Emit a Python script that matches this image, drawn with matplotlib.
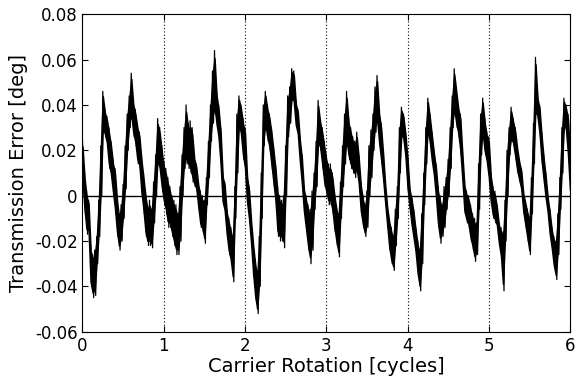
import numpy as np
import matplotlib
matplotlib.use('Agg')
import matplotlib.pyplot as plt

# carrier rotation grid [cycles], one upper/lower reading every 0.025 cycle
step = 0.025

# upper edge of the error band, in 1e-3 deg
upper = [
    24, 10, 2, -2, -22, -26, -24, -18, -2, 22, 46, 38, 35, 30, 24, 16, 12, 0, -8, -4,
    5, 22, 36, 44, 54, 42, 38, 32, 28, 18, 10, 2, -4, -2, -6, 6, 18, 34, 30, 22,
    15, 12, 8, 4, 0, -2, -4, -8, 4, 18, 30, 40, 32, 33, 30, 18, 14, 6, 2, 0,
    -2, 8, 24, 40, 55, 64, 46, 40, 30, 10, 6, -6, -10, -14, -18, 4, 36, 44, 40, 34,
    30, 10, 4, -10, -20, -28, -34, -18, 10, 40, 46, 40, 36, 30, 22, 14, 4, 0, -2, 0,
    22, 44, 48, 56, 55, 42, 38, 26, 18, 4, 0, -4, -6, 2, 10, 24, 42, 34, 30, 24,
    18, 14, 14, 10, 2, -4, -8, 6, 22, 36, 46, 34, 30, 26, 24, 28, 18, 6, 0, -4,
    2, 22, 29, 36, 48, 53, 38, 32, 20, 6, -4, -10, -14, -18, -6, 4, 30, 39, 36, 28,
    18, 4, 0, -6, -14, -20, -24, -8, 10, 30, 43, 36, 28, 20, 14, 4, 0, -4, 4, 8,
    16, 30, 44, 56, 48, 40, 36, 20, 6, 2, 0, -4, -8, -10, -12, 14, 36, 43, 34, 28,
    26, 10, 4, 2, -4, -12, -14, -16, -2, 20, 30, 39, 34, 30, 22, 16, 12, 2, -2, -6,
    -10, 8, 32, 61, 44, 40, 28, 18, 10, 0, -6, -14, -18, -20, -8, 8, 30, 43, 40, 36,
    20,
]

# lower edge of the error band, in 1e-3 deg
lower = [
    5, -8, -17, -17, -40, -45, -44, -30, -18, 0, 28, 26, 22, 12, 8, 0, -8, -18, -24, -20,
    -10, 3, 20, 30, 34, 26, 22, 14, 12, 0, -8, -18, -22, -22, -23, -12, 0, 14, 10, 2,
    -4, -8, -14, -14, -18, -22, -26, -26, -20, 0, 12, 14, 12, 10, 6, 4, 2, -6, -14, -16,
    -21, -4, 8, 24, 32, 36, 30, 24, 12, -4, -8, -18, -26, -30, -38, -10, 10, 30, 26, 16,
    10, -4, -12, -22, -36, -46, -52, -40, -10, 22, 30, 24, 20, 12, 4, -4, -18, -20, -20, -23,
    0, 26, 32, 42, 40, 30, 26, 14, 4, -8, -16, -24, -30, -24, -6, 4, 22, 20, 12, 4,
    0, -4, -4, -8, -16, -22, -27, -10, 4, 14, 22, 16, 12, 10, 8, 10, 4, -8, -14, -18,
    -14, 0, 8, 20, 28, 32, 22, 14, 6, -4, -14, -24, -30, -33, -22, -10, 10, 26, 24, 16,
    2, -6, -14, -20, -26, -36, -42, -30, -4, 14, 28, 22, 14, 8, -2, -14, -21, -18, -14, -6,
    0, 12, 30, 36, 30, 26, 18, 6, -8, -12, -14, -20, -24, -29, -26, -6, 18, 26, 18, 14,
    6, -4, -10, -12, -14, -22, -28, -42, -20, 0, 18, 24, 22, 16, 10, 6, 2, -8, -14, -20,
    -26, -8, 14, 36, 34, 26, 14, 6, -2, -8, -18, -24, -32, -37, -26, -6, 10, 30, 28, 16,
    0,
]

cycles = np.arange(len(upper)) * step
hi = np.array(upper) / 1000.0
lo = np.array(lower) / 1000.0

# zig-zag between the two edges so the trace reads as a dense band
x = np.empty(2 * len(cycles) - 1)
y = np.empty(2 * len(cycles) - 1)
x[0::2] = cycles
y[0::2] = hi
x[1::2] = cycles[:-1] + step / 2
y[1::2] = lo[:-1]

plt.rcParams['font.family'] = ['DejaVu Sans']

fig = plt.figure(figsize=(5.76, 3.81), dpi=100)
ax = fig.add_axes([0.1432, 0.1294, 0.8464, 0.8331])

# solid core of the band, a little inside the extremes
core_hi = hi - 0.12 * (hi - lo)
core_lo = lo + 0.12 * (hi - lo)
ax.fill_between(cycles, core_lo, core_hi, color='black', lw=1.1, edgecolor='black')
ax.plot(x, y, color='black', lw=0.9)
ax.axhline(0, color='black', lw=1.0)
for k in range(1, 6):
    ax.axvline(k, color='black', lw=0.8, linestyle=(0, (1, 2)))

ax.set_xlim(0, 6)
ax.set_ylim(-0.06, 0.08)
ax.set_xticks(range(0, 7))
ax.set_yticks(np.arange(-0.06, 0.081, 0.02))
ax.set_yticklabels(['-0.06', '-0.04', '-0.02', '0', '0.02', '0.04', '0.06', '0.08'])
ax.tick_params(direction='in', length=4, top=True, right=True, labelsize=12)
ax.set_xlabel('Carrier Rotation [cycles]', fontsize=14, labelpad=2)
ax.set_ylabel('Transmission Error [deg]', fontsize=14, labelpad=5)
for s in ax.spines.values():
    s.set_linewidth(0.8)

fig.savefig('out.png', dpi=100)
